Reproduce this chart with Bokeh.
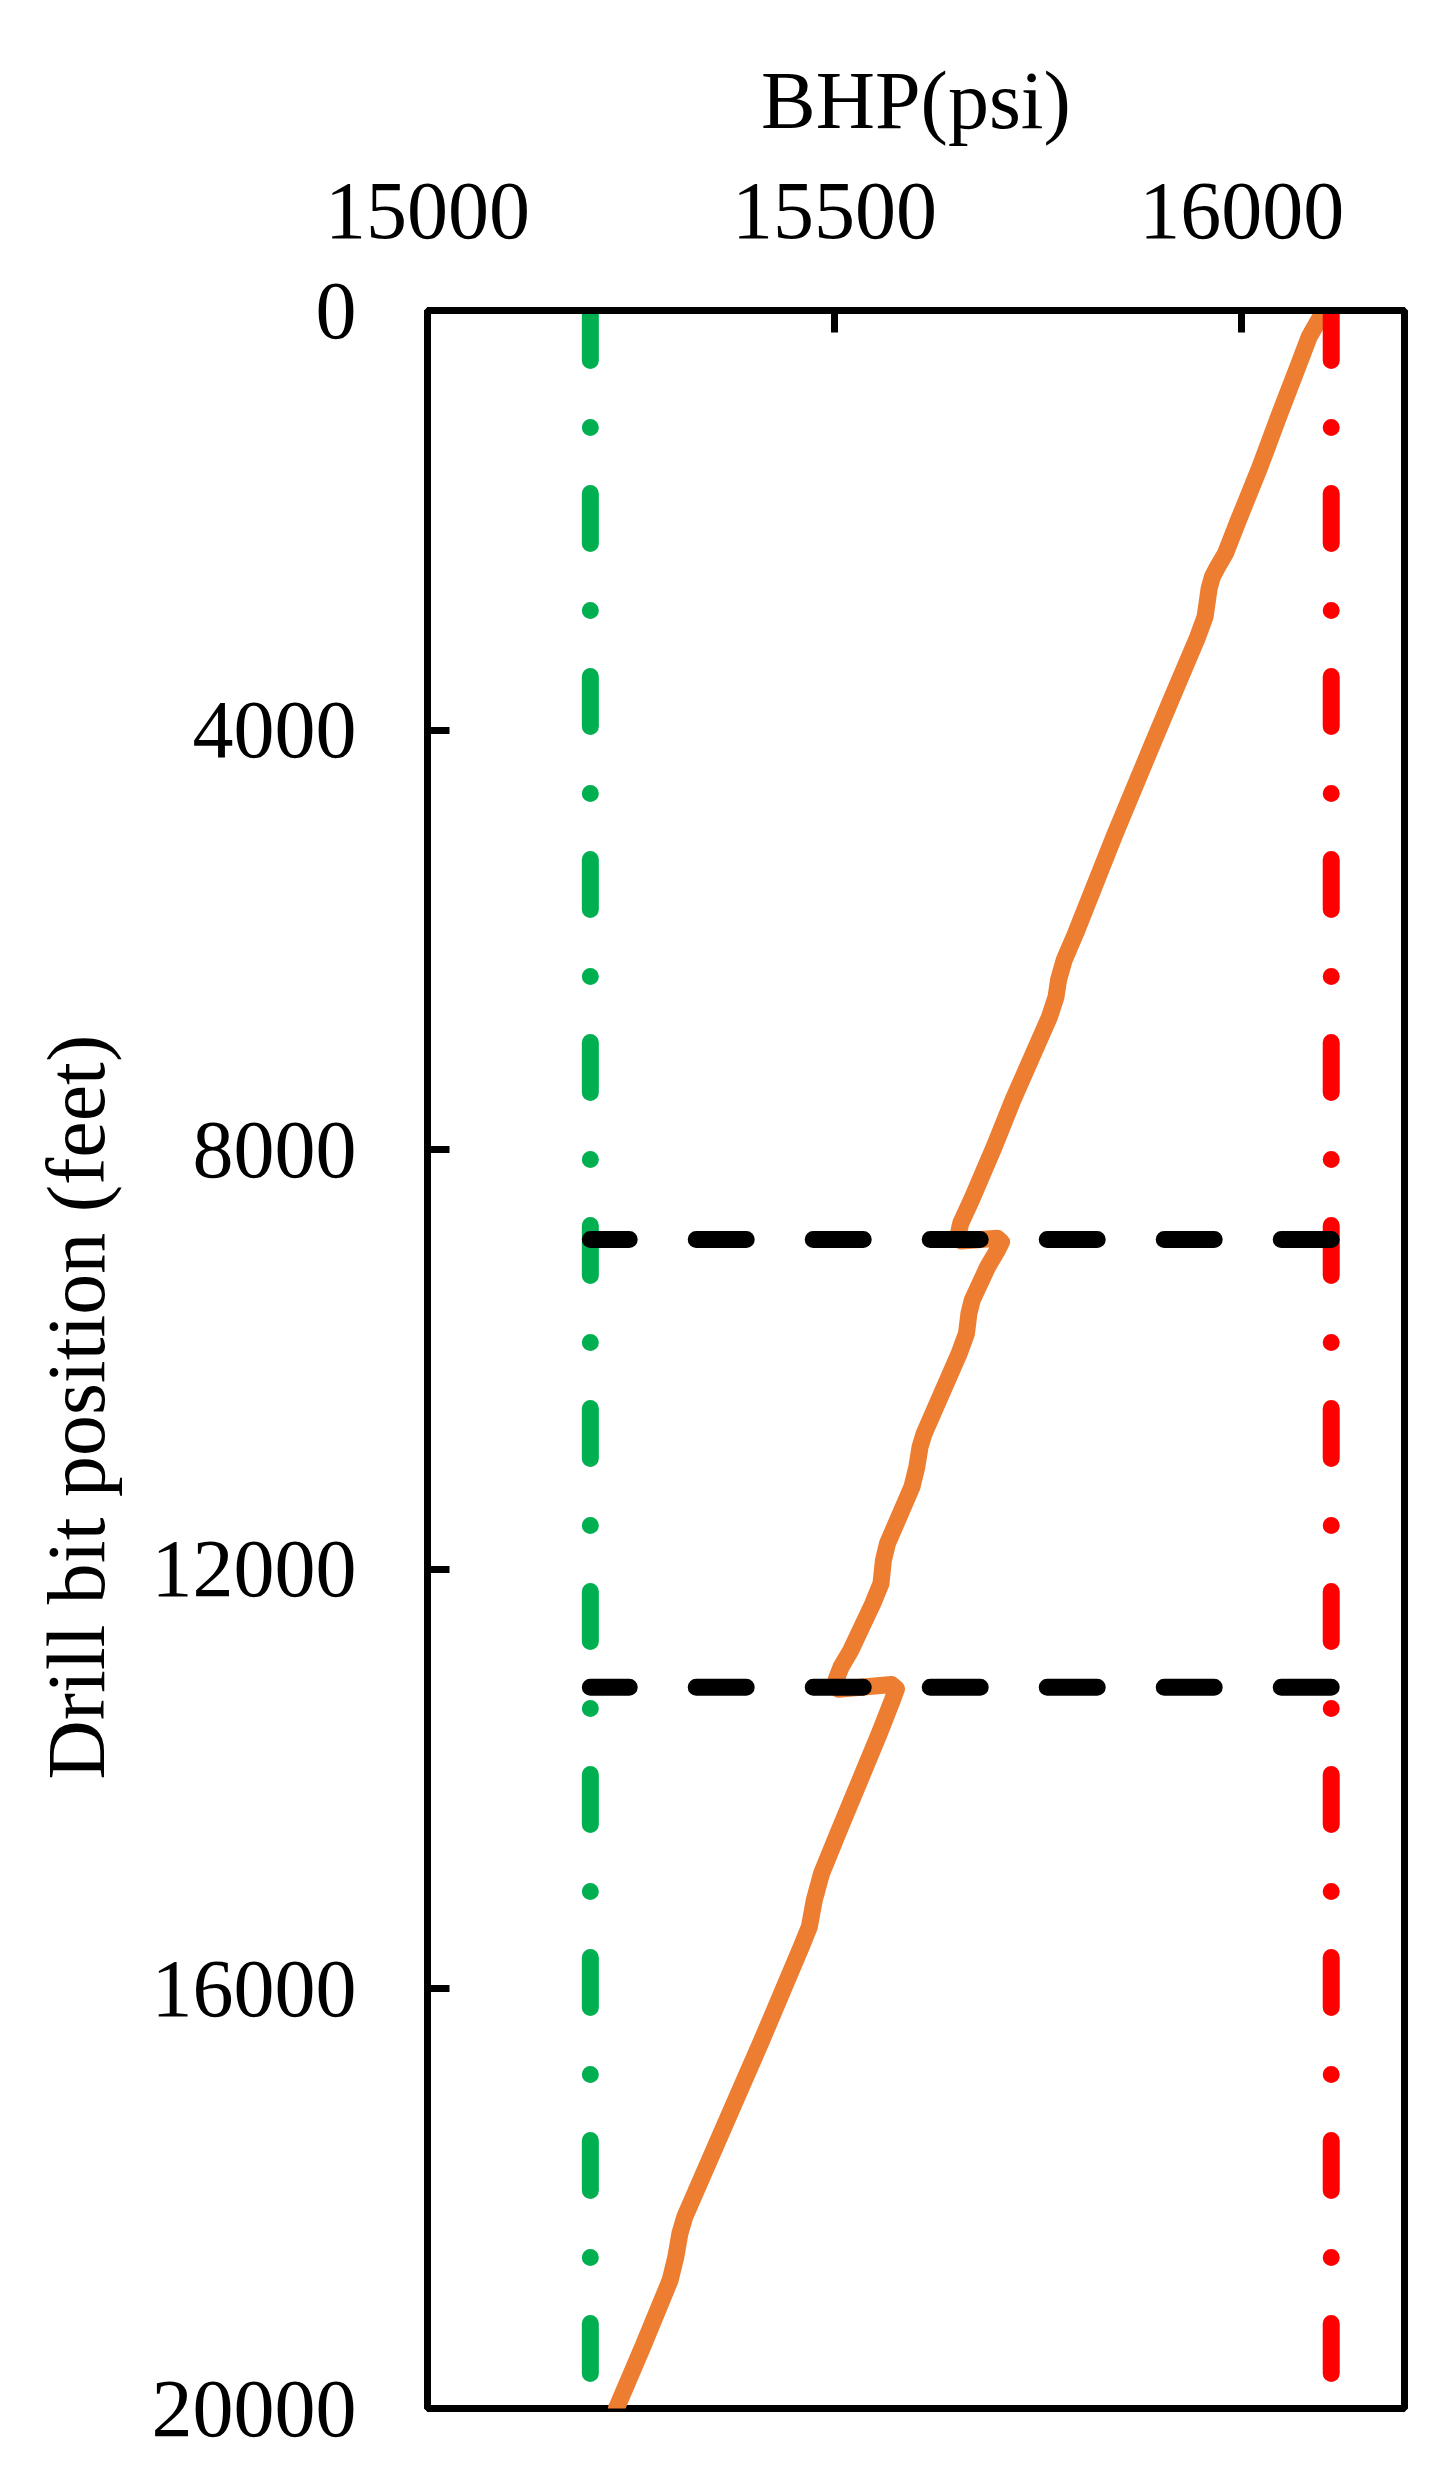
from bokeh.plotting import figure
from bokeh.models import Range1d, FixedTicker, Title
from bokeh.embed import file_html
from bokeh.resources import INLINE

# ---- data ----
depth_ft = [0, 100, 250, 537, 1000, 1500, 2000, 2317, 2450, 2540, 2650, 2762, 2921, 3112,
            3716, 4160, 5000, 5939, 6193, 6384, 6543, 6734, 7528, 7973, 8481, 8700, 8800,
            8870, 8845, 8880, 8958, 9117, 9435, 9562, 9752, 9943, 10706, 10833, 11024, 11215,
            11754, 11913, 12136, 12326, 12771, 12930, 13050, 13143, 13098, 13140, 13248, 13565,
            14519, 14900, 15154, 15409, 15600, 16500, 17300, 18174, 18332, 18555, 18777, 19400, 20000]
bhp_psi = [16102, 16094, 16083, 16069, 16046, 16022, 15996, 15980, 15970, 15964, 15960, 15958, 15955, 15946,
           15913, 15889, 15844, 15796, 15782, 15775, 15772, 15764, 15719, 15696, 15668, 15655, 15652,
           15656, 15700, 15705, 15700, 15688, 15669, 15665, 15662, 15653, 15610, 15605, 15601, 15595,
           15565, 15560, 15557, 15547, 15520, 15508, 15502, 15505, 15570, 15576, 15571, 15555,
           15504, 15484, 15475, 15469, 15459, 15410, 15365, 15316, 15310, 15305, 15298, 15265, 15232]

limit_depths = [0, 20000]
lower_bhp = 15200
upper_bhp = 16110
transition_depths = [8855, 13125]

x_ticks = [15000, 15500, 16000]
y_ticks = [0, 4000, 8000, 12000, 16000, 20000]

FONT = "Liberation Serif"
FS = "82px"

p = figure(width=1426, height=2458, output_backend="svg", toolbar_location=None,
           x_range=Range1d(15000, 16200), y_range=Range1d(20000, 0),
           x_axis_location="above",
           min_border_left=427, min_border_top=310, min_border_right=22, min_border_bottom=50)

p.grid.visible = False
p.outline_line_color = "black"
p.outline_line_width = 7
p.background_fill_color = "white"
p.border_fill_color = "white"

for ax in (p.xaxis[0], p.yaxis[0]):
    ax.axis_line_width = 7
    ax.axis_line_color = "black"
    ax.major_tick_line_width = 7
    ax.major_tick_line_color = "black"
    ax.major_tick_in = 22
    ax.major_tick_out = 0
    ax.minor_tick_in = 0
    ax.minor_tick_out = 0
    ax.minor_tick_line_color = None
    ax.major_label_text_font = FONT
    ax.major_label_text_font_size = FS
    ax.major_label_text_color = "black"
    ax.axis_label_text_font = FONT
    ax.axis_label_text_font_size = FS
    ax.axis_label_text_font_style = "normal"
    ax.axis_label_text_color = "black"

p.xaxis[0].ticker = FixedTicker(ticks=x_ticks)
p.yaxis[0].ticker = FixedTicker(ticks=y_ticks)
p.xaxis[0].axis_label = "BHP(psi)"
p.xaxis[0].major_label_standoff = 73
p.xaxis[0].axis_label_standoff = 35
p.yaxis[0].major_label_standoff = 71

# y axis title placed as a side title so it can sit a little below centre
ytitle = Title(text="Drill bit position (feet)", align="left", offset=629,
               text_font=FONT, text_font_size=FS, text_font_style="normal",
               text_color="black", vertical_align="middle", standoff=52)
p.add_layout(ytitle, "left")

# BHP curve
p.line(bhp_psi, depth_ft, line_color="#ED7D31", line_width=17, line_join="round", line_cap="round")

# limits
p.line([lower_bhp, lower_bhp], limit_depths, line_color="#00B050", line_width=17,
       line_dash="50 67 0 66", line_cap="round")
p.line([upper_bhp, upper_bhp], limit_depths, line_color="#FF0000", line_width=17,
       line_dash="50 67 0 66", line_cap="round")

# transitions
for d in transition_depths:
    p.line([upper_bhp, lower_bhp], [d, d], line_color="black", line_width=17,
           line_dash="50 67", line_cap="round")

open("out.html", "w").write(file_html(p, INLINE))
